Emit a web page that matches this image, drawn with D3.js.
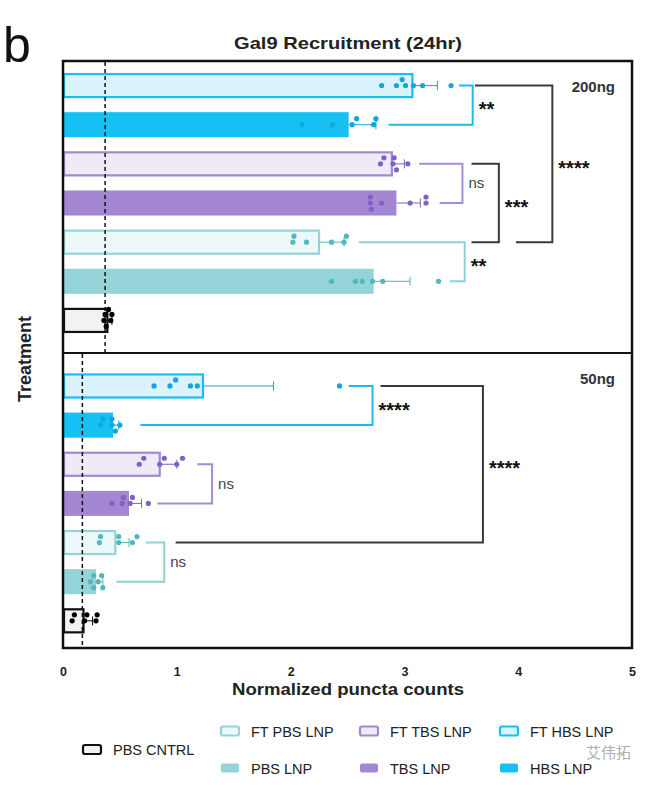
<!DOCTYPE html>
<html>
<head>
<meta charset="utf-8">
<script src="https://cdn.jsdelivr.net/npm/d3@7"></script>
<style>
  html, body { margin: 0; padding: 0; background: #fff; }
  svg { display: block; font-family: "Liberation Sans", Arial, Helvetica, sans-serif; }
</style>
</head>
<body>
<svg id="chart" width="650" height="785"></svg>
<script>
// ---------------- data ----------------
const categories = ["FT HBS LNP", "HBS LNP", "FT TBS LNP", "TBS LNP", "FT PBS LNP", "PBS LNP", "PBS CNTRL"];
const panels = ["200ng", "50ng"];
const xTicks = [0, 1, 2, 3, 4, 5];

const means200 = [3.07, 2.51, 2.89, 2.93, 2.25, 2.73, 0.39];
const sd200    = [0.22, 0.24, 0.11, 0.21, 0.22, 0.32, 0.04];
const points200 = [
  [2.80, 2.93, 2.98, 3.01, 3.08, 3.16, 3.41],
  [2.10, 2.37, 2.54, 2.58, 2.73, 2.75],
  [2.79, 2.82, 2.90, 2.91, 2.93, 3.03],
  [2.70, 2.70, 2.71, 2.80, 3.05, 3.19, 3.19],
  [2.02, 2.03, 2.14, 2.36, 2.47, 2.49],
  [2.36, 2.57, 2.63, 2.72, 2.81, 3.30],
  [0.36, 0.37, 0.38, 0.40, 0.42, 0.43]
];

const means50 = [1.23, 0.44, 0.85, 0.58, 0.46, 0.29, 0.18];
const sd50    = [0.62, 0.05, 0.15, 0.11, 0.12, 0.06, 0.08];
const points50 = [
  [0.80, 0.94, 0.99, 1.12, 1.18, 2.43],
  [0.33, 0.35, 0.43, 0.43, 0.46, 0.50],
  [0.67, 0.71, 0.85, 0.89, 1.00, 1.05],
  [0.43, 0.52, 0.53, 0.59, 0.61, 0.75],
  [0.32, 0.33, 0.49, 0.49, 0.61, 0.65],
  [0.24, 0.27, 0.27, 0.31, 0.34, 0.35],
  [0.08, 0.10, 0.19, 0.21, 0.29, 0.30]
];

const controlLine = [0.37, 0.17];

// significance brackets: rows (indices into categories), arm starts (data units), vertical (data units)
const brackets200 = [
  { rows: [0, 1], arms: [3.48, 2.86], v: 3.60, label: "**",   group: "HBS" },
  { rows: [0, 4], arms: [3.62, 3.98], v: 4.30, label: "****", group: "black" },
  { rows: [2, 3], arms: [3.13, 3.31], v: 3.51, label: "ns",   group: "TBS" },
  { rows: [2, 4], arms: [3.59, 3.59], v: 3.83, label: "***",  group: "black" },
  { rows: [4, 5], arms: [2.60, 3.40], v: 3.53, label: "**",   group: "PBS" }
];
const brackets50 = [
  { rows: [0, 1], arms: [2.51, 0.68], v: 2.72, label: "****", group: "HBS" },
  { rows: [0, 4], arms: [2.79, 0.99], v: 3.69, label: "****", group: "black" },
  { rows: [2, 3], arms: [1.18, 0.83], v: 1.31, label: "ns",   group: "TBS" },
  { rows: [4, 5], arms: [0.73, 0.47], v: 0.89, label: "ns",   group: "PBS" }
];

// ---------------- styles ----------------
const groupOf = c => c.includes("HBS") ? "HBS" : c.includes("TBS") ? "TBS" : c.includes("CNTRL") ? "CTRL" : "PBS";
const solid = { HBS: "#16c0f3", TBS: "#a387d3", PBS: "#94d4d9", CTRL: "#111111", black: "#3a3a3a" };
const light = { HBS: "#dbf3fc", TBS: "#eeebf6", PBS: "#edf8f9", CTRL: "#f2f2f2" };
const dotCol = { HBS: "#12a6da", TBS: "#7f62c2", PBS: "#52b8bd", CTRL: "#000000" };
const brCol = { HBS: "#1cbcef", TBS: "#a68bd5", PBS: "#8ed1d5", black: "#3a3a3a" };

// ---------------- layout ----------------
const svg = d3.select("#chart");
const frame = { left: 63, right: 632, top: 61, mid: 353, bottom: 648 };

const x = d3.scaleLinear().domain([0, 5]).range([frame.left, frame.right]);
const yScales = [
  d3.scaleBand().domain(categories).range([66, 340]).paddingInner(0.36).paddingOuter(0.18),
  d3.scaleBand().domain(categories).range([366.4, 640.4]).paddingInner(0.36).paddingOuter(0.18)
];
const panelData = [
  { means: means200, sd: sd200, pts: points200, br: brackets200, y0: frame.top, y1: frame.mid },
  { means: means50, sd: sd50, pts: points50, br: brackets50, y0: frame.mid, y1: frame.bottom }
];

// title & panel letter
svg.append("text").attr("x", 3).attr("y", 62).attr("font-size", 50).attr("fill", "#111").text("b");
svg.append("text").attr("x", 348).attr("y", 49).attr("text-anchor", "middle")
  .attr("font-size", 17).attr("font-weight", "bold").attr("fill", "#222")
  .attr("textLength", 228).attr("lengthAdjust", "spacingAndGlyphs")
  .text("Gal9 Recruitment (24hr)");

// beeswarm offsets
function swarm(vals, r) {
  const placed = [];
  const cands = [0, -6, 6, -11, 11];
  const sorted = vals.map((v, i) => ({ v, i })).sort((a, b) => a.v - b.v);
  sorted.forEach(p => {
    const px = x(p.v);
    for (const o of cands) {
      const ok = placed.every(q => Math.hypot(q.px - px, q.o - o) >= 2 * r + 0.6);
      if (ok) { placed.push({ px, o, v: p.v }); break; }
    }
  });
  return placed;
}

panelData.forEach((P, pi) => {
  const y = yScales[pi];
  const g = svg.append("g");

  // bars
  categories.forEach((c, i) => {
    const grp = groupOf(c);
    const ft = c.startsWith("FT");
    const isCtrl = grp === "CTRL";
    const outl = ft || isCtrl;
    const bx = x(0), bw = x(P.means[i]) - x(0);
    g.append("rect")
      .attr("x", bx + (outl ? 1 : 0)).attr("y", y(c) + (outl ? 1 : 0))
      .attr("width", bw - (outl ? 1 : 0))
      .attr("height", y.bandwidth() - (outl ? 2 : 0))
      .attr("fill", outl ? light[grp] : solid[grp])
      .attr("stroke", outl ? solid[grp] : "none")
      .attr("stroke-width", outl ? 2.2 : 0);
  });

  // error bars
  categories.forEach((c, i) => {
    const grp = groupOf(c);
    const cy = y(c) + y.bandwidth() / 2;
    const xe = x(P.means[i] + P.sd[i]);
    g.append("line").attr("x1", x(P.means[i])).attr("x2", xe).attr("y1", cy).attr("y2", cy)
      .attr("stroke", dotCol[grp]).attr("stroke-width", 1);
    g.append("line").attr("x1", xe).attr("x2", xe).attr("y1", cy - 4.5).attr("y2", cy + 4.5)
      .attr("stroke", dotCol[grp]).attr("stroke-width", 1);
  });

  // points
  categories.forEach((c, i) => {
    const grp = groupOf(c);
    const cy = y(c) + y.bandwidth() / 2;
    swarm(P.pts[i], 2.6).forEach(p => {
      g.append("circle").attr("cx", p.px).attr("cy", cy + p.o).attr("r", 2.6)
        .attr("fill", dotCol[grp]);
    });
  });

  // control dashed line
  g.append("line").attr("x1", x(controlLine[pi])).attr("x2", x(controlLine[pi]))
    .attr("y1", P.y0 + 1).attr("y2", P.y1 - 1)
    .attr("stroke", "#111").attr("stroke-width", 1.5).attr("stroke-dasharray", "4,3");

  // brackets
  P.br.forEach(b => {
    const ya = y(categories[b.rows[0]]) + y.bandwidth() / 2;
    const yb = y(categories[b.rows[1]]) + y.bandwidth() / 2;
    const path = d3.path();
    path.moveTo(x(b.arms[0]), ya);
    path.lineTo(x(b.v), ya);
    path.lineTo(x(b.v), yb);
    path.lineTo(x(b.arms[1]), yb);
    g.append("path").attr("d", path.toString()).attr("fill", "none")
      .attr("stroke", brCol[b.group]).attr("stroke-width", 2);
    const ym = (ya + yb) / 2;
    if (b.label === "ns") {
      g.append("text").attr("x", x(b.v) + 6).attr("y", ym + 5)
        .attr("font-size", 15).attr("fill", "#444").text("ns");
    } else {
      g.append("text").attr("x", x(b.v) + 6).attr("y", ym + 11)
        .attr("font-size", 20).attr("font-weight", "bold").attr("fill", "#111")
        .text(b.label);
    }
  });

  // panel label
  g.append("text").attr("x", 615).attr("y", P.y0 + 31).attr("text-anchor", "end")
    .attr("font-size", 15).attr("font-weight", "bold").attr("fill", "#333").text(panels[pi]);
});

// frame
svg.append("rect").attr("x", frame.left).attr("y", frame.top)
  .attr("width", frame.right - frame.left).attr("height", frame.bottom - frame.top)
  .attr("fill", "none").attr("stroke", "#111").attr("stroke-width", 2.5);
svg.append("line").attr("x1", frame.left).attr("x2", frame.right).attr("y1", frame.mid).attr("y2", frame.mid)
  .attr("stroke", "#111").attr("stroke-width", 2.2);

// x axis
const xAxis = d3.axisBottom(x).tickValues(xTicks).tickSize(0).tickPadding(19).tickFormat(d3.format("d"));
const ax = svg.append("g").attr("transform", `translate(0,${frame.bottom})`).call(xAxis);
ax.select(".domain").remove();
ax.selectAll("text").attr("font-size", 12.5).attr("font-weight", "bold").attr("fill", "#222")
  .attr("font-family", "'Liberation Sans', Arial, sans-serif");

svg.append("text").attr("x", 348).attr("y", 695).attr("text-anchor", "middle")
  .attr("font-size", 16.5).attr("font-weight", "bold").attr("fill", "#222")
  .attr("textLength", 232).attr("lengthAdjust", "spacingAndGlyphs")
  .text("Normalized puncta counts");

svg.append("text").attr("transform", "translate(31,359) rotate(-90)").attr("text-anchor", "middle")
  .attr("font-size", 18).attr("font-weight", "bold").attr("fill", "#222").text("Treatment");

// legend
const legendItems = [
  { name: "PBS CNTRL", col: 0, row: 0.5 },
  { name: "FT PBS LNP", col: 1, row: 0 }, { name: "PBS LNP", col: 1, row: 1 },
  { name: "FT TBS LNP", col: 2, row: 0 }, { name: "TBS LNP", col: 2, row: 1 },
  { name: "FT HBS LNP", col: 3, row: 0 }, { name: "HBS LNP", col: 3, row: 1 }
];
const legX = [83, 221, 360, 500];
const legY = [731, 768];
legendItems.forEach(it => {
  const grp = groupOf(it.name);
  const ft = it.name.startsWith("FT") || grp === "CTRL";
  const lx = legX[it.col];
  const ly = it.row === 0.5 ? (legY[0] + legY[1]) / 2 : legY[it.row];
  svg.append("rect").attr("x", lx).attr("y", ly - 4.5).attr("width", 18).attr("height", 9).attr("rx", 2)
    .attr("fill", ft ? light[grp] : solid[grp])
    .attr("stroke", ft ? solid[grp] : "none").attr("stroke-width", ft ? 2.2 : 0);
  svg.append("text").attr("x", lx + 30).attr("y", ly + 5.5).attr("font-size", 14.5)
    .attr("fill", "#222").text(it.name);
});

// watermark
svg.append("text").attr("x", 586).attr("y", 758).attr("font-size", 15)
  .attr("font-family", "'Noto Sans CJK SC', sans-serif").attr("fill", "#9a9a9a").attr("opacity", 0.8)
  .text("艾伟拓");
</script>
</body>
</html>
